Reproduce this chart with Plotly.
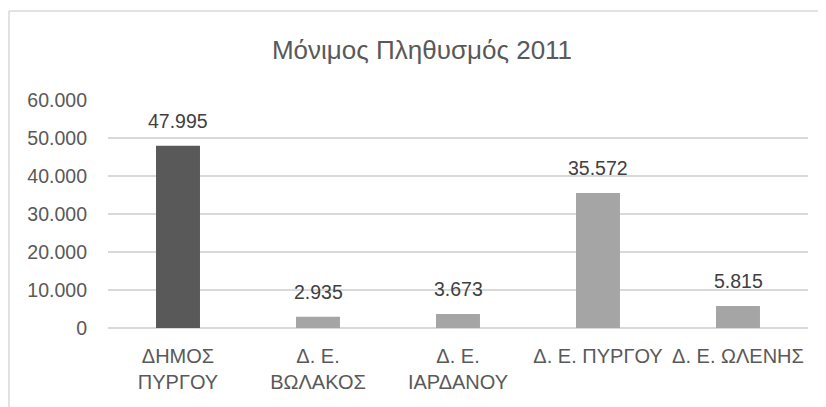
import plotly.graph_objects as go

categories = ["ΔΗΜΟΣ<br>ΠΥΡΓΟΥ", "Δ. Ε.<br>ΒΩΛΑΚΟΣ", "Δ. Ε.<br>ΙΑΡΔΑΝΟΥ", "Δ. Ε. ΠΥΡΓΟΥ", "Δ. Ε. ΩΛΕΝΗΣ"]
values = [47995, 2935, 3673, 35572, 5815]
value_labels = ["47.995", "2.935", "3.673", "35.572", "5.815"]
bar_colors = ["#595959", "#a5a5a5", "#a5a5a5", "#a5a5a5", "#a5a5a5"]
tick_vals = [0, 10000, 20000, 30000, 40000, 50000, 60000]
tick_text = ["0", "10.000", "20.000", "30.000", "40.000", "50.000", "60.000"]
title_text = "Μόνιμος Πληθυσμός 2011"

FONT = "Liberation Sans, Arial, sans-serif"
TXT = "#595959"
FS = 19.5

fig = go.Figure(go.Bar(
    x=categories, y=values, marker=dict(color=bar_colors, line=dict(width=0)),
    hoverinfo="skip",
))

for c, v, t in zip(categories, values, value_labels):
    fig.add_annotation(x=c, y=v, text=t, showarrow=False, yanchor="bottom",
                       yshift=12, font=dict(family=FONT, size=FS, color="#404040"))

# page body has an 8px margin, so the figure is placed at (8, 8)
W, H = 818, 399
L, R, T, B = 100, 18, 92, 79
pw, ph = W - L - R, H - T - B

fig.update_layout(
    width=W, height=H,
    margin=dict(l=L, r=R, t=T, b=B, pad=0),
    paper_bgcolor="white", plot_bgcolor="white",
    bargap=0.686,
    showlegend=False,
    font=dict(family=FONT, color=TXT, size=FS),
    title=dict(text=title_text, x=414 / W, xanchor="center", y=1 - 42 / H, yanchor="middle",
               font=dict(family=FONT, size=26, color=TXT)),
    xaxis=dict(showgrid=False, showline=False, ticks="", tickangle=0,
               ticklabelstandoff=14,
               tickfont=dict(family=FONT, size=20, color=TXT)),
    yaxis=dict(range=[0, 60080], tickvals=tick_vals, ticktext=tick_text,
               showgrid=True, gridcolor="#d9d9d9", gridwidth=1.5,
               zeroline=True, zerolinecolor="#d9d9d9", zerolinewidth=1.5,
               showline=False, ticks="", ticklabelstandoff=20,
               tickfont=dict(family=FONT, size=FS, color=TXT)),
    shapes=[
        dict(type="line", xref="paper", yref="paper",
             x0=(1 - L) / pw, x1=(W + 5 - L) / pw,
             y0=1 + (T - 3) / ph, y1=1 + (T - 3) / ph,
             line=dict(color="#d9d9d9", width=1.5)),
        dict(type="line", xref="paper", yref="paper",
             x0=(1 - L) / pw, x1=(1 - L) / pw,
             y0=1 + (T - 3) / ph, y1=-(B + 5) / ph,
             line=dict(color="#d9d9d9", width=1.5)),
    ],
)

fig.write_html("out.html")
